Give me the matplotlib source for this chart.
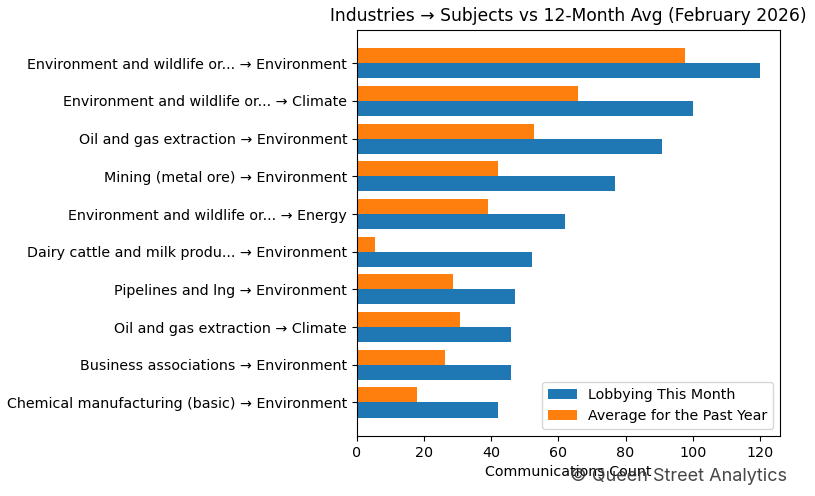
import matplotlib
matplotlib.use('Agg')
import matplotlib.pyplot as plt
import numpy as np

# Industry -> subject pairs, top to bottom
labels = [
    'Environment and wildlife or... \u2192 Environment',
    'Environment and wildlife or... \u2192 Climate',
    'Oil and gas extraction \u2192 Environment',
    'Mining (metal ore) \u2192 Environment',
    'Environment and wildlife or... \u2192 Energy',
    'Dairy cattle and milk produ... \u2192 Environment',
    'Pipelines and lng \u2192 Environment',
    'Oil and gas extraction \u2192 Climate',
    'Business associations \u2192 Environment',
    'Chemical manufacturing (basic) \u2192 Environment',
]
this_month = [120, 100, 91, 77, 62, 52, 47, 46, 46, 42]
past_year_avg = [97.6, 65.7, 52.6, 41.9, 38.9, 5.5, 28.5, 30.8, 26.1, 18.0]

plt.rcParams['font.size'] = 10.25

fig, ax = plt.subplots(figsize=(8.15, 4.96), dpi=100)

y = np.arange(len(labels))
h = 0.4
ax.barh(y + h / 2, this_month, height=h, color='#1f77b4', label='Lobbying This Month')
ax.barh(y - h / 2, past_year_avg, height=h, color='#ff7f0e', label='Average for the Past Year')

ax.set_yticks(y)
ax.set_yticklabels(labels)
ax.invert_yaxis()
ax.set_xlabel('Communications Count')
ax.set_title('Industries \u2192 Subjects vs 12-Month Avg (February 2026)')
ax.legend(loc='lower right')

plt.subplots_adjust(left=0.438, right=0.957, top=0.94, bottom=0.121)

fig.text(0.966, 0.04, '\u00a9 Queen Street Analytics', ha='right', va='center',
         fontsize=13, family=['Inter', 'DejaVu Sans'], color='#333333', alpha=0.9)

plt.savefig('out.png')
